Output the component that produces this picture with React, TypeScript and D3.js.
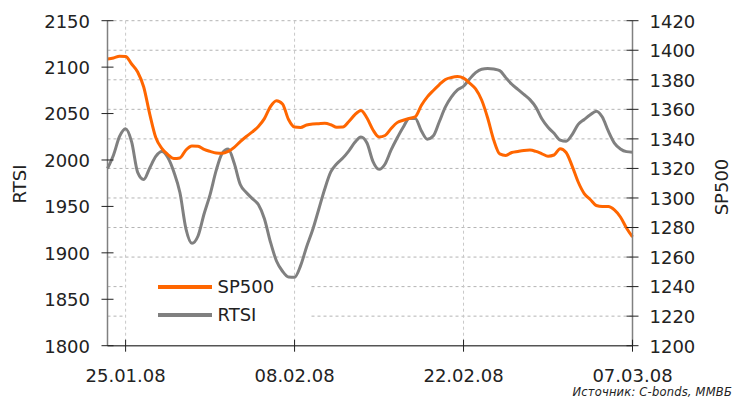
import React from "react";
import * as d3 from "d3";

// Half-day samples starting 23.01.2008 12:00
const startDate = new Date(2008, 0, 23, 12);
const endDate = new Date(2008, 2, 7, 0);
const stepHours = 12;

const sp500Values = [
  1394.1, 1394.8, 1395.9, 1395.8, 1390.7, 1385.3, 1375.1, 1356.8, 1340.9, 1333.6,
  1329.4, 1326.7, 1327.1, 1332.5, 1335.2, 1335.0, 1332.9, 1331.5, 1330.4, 1330.2,
  1331.5, 1334.3, 1338.1, 1341.6, 1344.7, 1348.4, 1353.7, 1361.8, 1365.8, 1363.6,
  1353.1, 1348.0, 1347.7, 1349.4, 1350.1, 1350.3, 1350.5, 1349.6, 1347.9, 1348.0,
  1351.8, 1356.4, 1359.2, 1354.1, 1346.0, 1341.3, 1342.3, 1347.0, 1351.0, 1352.6,
  1353.8, 1355.0, 1362.6, 1368.4, 1372.8, 1376.8, 1380.2, 1381.6, 1382.2, 1381.1,
  1377.8, 1373.8, 1366.3, 1354.1, 1339.2, 1329.8, 1328.8, 1330.8, 1331.5, 1332.1,
  1332.4, 1331.5, 1329.9, 1328.3, 1329.1, 1333.3, 1330.8, 1321.6, 1310.8, 1303.0,
  1299.0, 1294.9, 1294.2, 1294.2, 1291.9, 1287.1, 1279.7, 1273.6,
];

const rtsiValues = [
  1990.8, 2005.4, 2025.3, 2033.6, 2019.4, 1986.7, 1979.0, 1991.4, 2003.8, 2009.1,
  2002.7, 1987.1, 1965.0, 1925.9, 1910.3, 1918.1, 1941.8, 1962.8, 1988.5, 2007.2,
  2011.8, 1996.4, 1973.6, 1965.0, 1958.4, 1952.0, 1936.8, 1911.7, 1891.2, 1880.2,
  1874.0, 1873.7, 1886.2, 1906.6, 1924.8, 1946.7, 1968.8, 1987.1, 1996.0, 2002.1,
  2009.9, 2019.0, 2024.8, 2018.3, 1998.2, 1989.9, 1995.7, 2010.8, 2023.7, 2035.3,
  2044.8, 2044.8, 2031.6, 2022.4, 2026.0, 2041.4, 2057.1, 2067.9, 2075.5, 2079.4,
  2087.2, 2094.0, 2097.8, 2098.5, 2097.9, 2096.3, 2088.7, 2081.6, 2076.0, 2070.6,
  2065.0, 2056.7, 2044.1, 2035.2, 2028.7, 2021.4, 2020.2, 2027.4, 2038.3, 2043.6,
  2048.6, 2052.6, 2046.3, 2031.0, 2018.2, 2011.9, 2009.0, 2008.4,
];

const leftTicks = [1800, 1850, 1900, 1950, 2000, 2050, 2100, 2150];
const rightTicks = [1200, 1220, 1240, 1260, 1280, 1300, 1320, 1340, 1360, 1380, 1400, 1420];
const dateTicks = [
  new Date(2008, 0, 25),
  new Date(2008, 1, 8),
  new Date(2008, 1, 22),
  new Date(2008, 2, 7),
];
const seriesNames = ["SP500", "RTSI"];
const leftTitle = "RTSI";
const rightTitle = "SP500";
const sourceText = "Источник: C-bonds, ММВБ";

const W = 734;
const H = 400;
const L = 107.5;
const R = 632.5;
const T = 20.7;
const B = 345.7;
const ORANGE = "#FF6600";
const GRAY = "#808080";
const FONT = "'DejaVu Sans', Verdana, sans-serif";

export default function App() {
  const dates = sp500Values.map(
    (_, i) => new Date(startDate.getTime() + i * stepHours * 3600 * 1000)
  );
  const x = d3.scaleTime().domain([startDate, endDate]).range([L, R]);
  const yL = d3.scaleLinear().domain([1800, 2150]).range([B, T]);
  const yR = d3.scaleLinear().domain([1200, 1420]).range([B, T]);

  const spLine = d3
    .line<number>()
    .x((_, i) => x(dates[i]))
    .y((v) => yR(v))
    .curve(d3.curveMonotoneX);
  const rtLine = d3
    .line<number>()
    .x((_, i) => x(dates[i]))
    .y((v) => yL(v))
    .curve(d3.curveMonotoneX);

  const fmt = d3.timeFormat("%d.%m.%y");

  return (
    <svg
      width={W}
      height={H}
      style={{ position: "absolute", left: 0, top: 0, background: "#fff" }}
      fontFamily={FONT}
    >
      <rect x={0} y={0} width={W} height={H} fill="#fff" />
      {/* horizontal grid */}
      {rightTicks
        .filter((t) => t !== 1200)
        .map((t) => (
          <line
            key={"h" + t}
            x1={L}
            x2={R}
            y1={yR(t)}
            y2={yR(t)}
            stroke="#b4b4b4"
            strokeWidth={1}
            strokeDasharray="3,3"
          />
        ))}
      {/* legend background */}
      <rect x={124} y={272} width={187} height={58} fill="#fff" />
      {/* vertical grid */}
      {dateTicks.slice(0, 3).map((d, i) => (
        <line
          key={"v" + i}
          x1={x(d)}
          x2={x(d)}
          y1={T}
          y2={B}
          stroke="#c8c8c8"
          strokeWidth={1}
          strokeDasharray="3,3"
        />
      ))}
      {/* series */}
      <path d={rtLine(rtsiValues) || ""} fill="none" stroke={GRAY} strokeWidth={3} strokeLinejoin="round" />
      <path d={spLine(sp500Values) || ""} fill="none" stroke={ORANGE} strokeWidth={3} strokeLinejoin="round" />

      {/* axes */}
      <line x1={L} x2={L} y1={T} y2={B} stroke={GRAY} strokeWidth={1.5} />
      <line x1={R} x2={R} y1={T} y2={B} stroke={GRAY} strokeWidth={1.5} />
      <line x1={L} x2={R} y1={B} y2={B} stroke="#555" strokeWidth={1.5} />

      {leftTicks.map((t) => (
        <g key={"l" + t}>
          <line x1={L - 6} x2={L + 6} y1={yL(t)} y2={yL(t)} stroke="#222" strokeWidth={1} />
          <text x={90} y={yL(t)} dy="0.38em" textAnchor="end" fontSize={18} fill="#222">
            {t}
          </text>
        </g>
      ))}
      {rightTicks.map((t) => (
        <g key={"r" + t}>
          <line x1={R - 6} x2={R + 6} y1={yR(t)} y2={yR(t)} stroke="#222" strokeWidth={1} />
          <text x={649.5} y={yR(t)} dy="0.38em" textAnchor="start" fontSize={18} fill="#222">
            {t}
          </text>
        </g>
      ))}
      {dateTicks.map((d, i) => (
        <g key={"x" + i}>
          <line x1={x(d)} x2={x(d)} y1={B - 6} y2={B + 6} stroke="#222" strokeWidth={1} />
          <text x={x(d)} y={381.5} textAnchor="middle" fontSize={18} fill="#222">
            {fmt(d)}
          </text>
        </g>
      ))}

      {/* axis titles */}
      <text
        transform="translate(26,184) rotate(-90)"
        textAnchor="middle"
        fontSize={18}
        fill="#222"
      >
        {leftTitle}
      </text>
      <text
        transform="translate(728,187) rotate(-90)"
        textAnchor="middle"
        fontSize={18}
        fill="#222"
      >
        {rightTitle}
      </text>

      {/* legend */}
      <line x1={158} x2={212} y1={287} y2={287} stroke={ORANGE} strokeWidth={4} />
      <text x={217.5} y={287} dy="0.36em" fontSize={18} fill="#222">
        {seriesNames[0]}
      </text>
      <line x1={158} x2={212} y1={315} y2={315} stroke={GRAY} strokeWidth={4} />
      <text x={217.5} y={315} dy="0.36em" fontSize={18} fill="#222">
        {seriesNames[1]}
      </text>

      {/* source */}
      <text x={732} y={396} fontSize={11.5} fontStyle="italic" fill="#222" textAnchor="end" letterSpacing={0.2}>
        {sourceText}
      </text>
    </svg>
  );
}
